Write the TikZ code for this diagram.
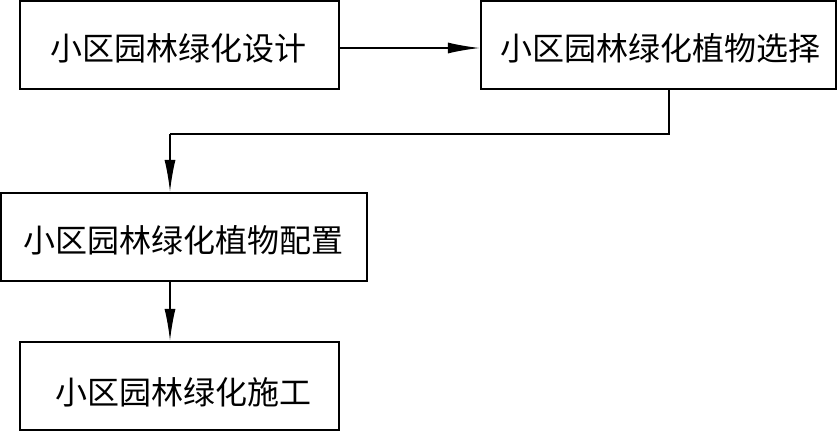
\documentclass[tikz,border=0pt]{standalone}
\usepackage{fontspec}
\newfontfamily\cjk{Noto Sans CJK SC}
\usetikzlibrary{arrows.meta}
\begin{document}
\begin{tikzpicture}[x=1pt,y=-1pt,
  stepbox/.style={draw,line width=2.2pt,inner sep=0pt},
  lbl/.style={font=\cjk\fontsize{32}{36}\selectfont,inner sep=0pt},
  conn/.style={line width=1.6pt,-{Latex[length=32pt,width=11pt]}}]
\useasboundingbox (0,0) rectangle (837,431);
\node[stepbox,minimum width=319pt,minimum height=88pt] (b1) at (179.5,45) {};
\node[stepbox,minimum width=355pt,minimum height=88pt] (b2) at (658.5,45) {};
\node[stepbox,minimum width=366pt,minimum height=88pt] (b3) at (184,237) {};
\node[stepbox,minimum width=319pt,minimum height=88pt] (b4) at (179.5,386) {};
\node[lbl] (t1) at (178,48) {小区园林绿化设计};
\node[lbl] (t2) at (660,48) {小区园林绿化植物选择};
\node[lbl] (t3) at (183,240) {小区园林绿化植物配置};
\node[lbl] (t4) at (183,392) {小区园林绿化施工};
\coordinate (c1) at (669,134);
\coordinate (c2) at (170,134);
\draw[conn] (b1.east |- 0,48) -- (b2.west |- 0,48);
\draw[line width=1.6pt] (b2.south -| c1) -- (c1) -- (c2);
\draw[conn] (c2) -- (c2 |- b3.north);
\draw[conn] (b3.south -| c2) -- (b4.north -| c2);
\end{tikzpicture}
\end{document}
